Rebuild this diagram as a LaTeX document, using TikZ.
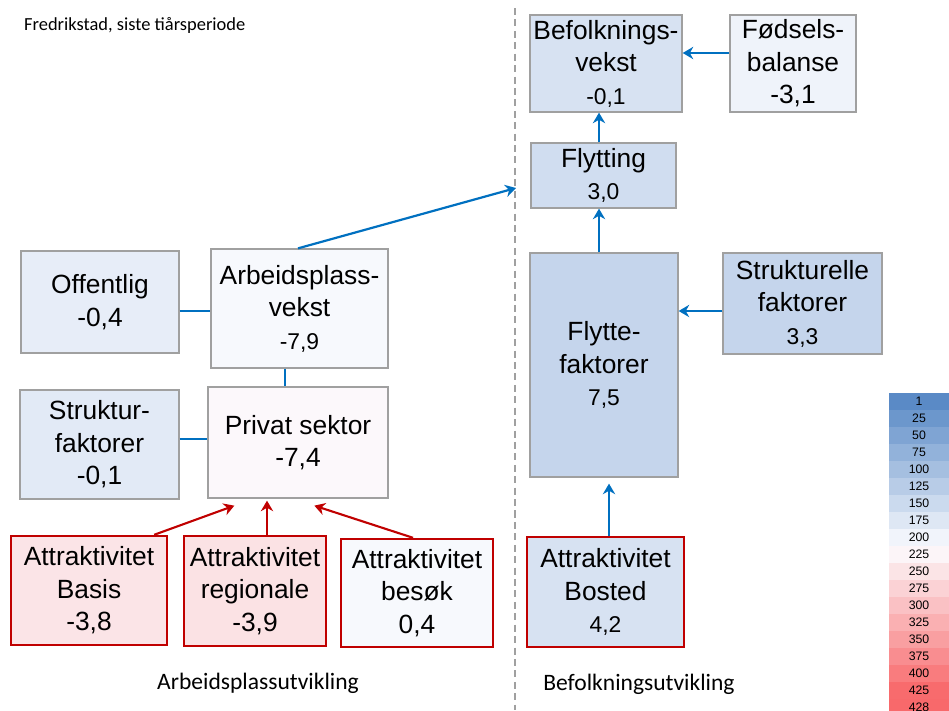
\documentclass[tikz,border=0pt]{standalone}
\usepackage{fontspec}
\setmainfont{Liberation Sans}
\newfontfamily\calibfont{Carlito}
\usetikzlibrary{arrows.meta}
\definecolor{xlblue}{RGB}{90,138,198}
\definecolor{xlwhite}{RGB}{252,252,255}
\definecolor{xlred}{RGB}{248,105,107}
\definecolor{linkblue}{RGB}{0,112,192}
\definecolor{attred}{RGB}{192,0,0}
\definecolor{boxgray}{RGB}{160,160,160}
\newcommand{\val}[1]{{\fontsize{13}{16}\selectfont #1}}
\tikzset{
  % plain factor box, grey border
  factor/.style={draw=boxgray, line width=0.75pt, align=center, inner sep=2pt,
    font=\fontsize{15}{18.5}\selectfont},
  % attractiveness box, red border
  attbox/.style={factor, draw=attred, line width=1.4pt},
  % blue connectors
  link/.style={draw=linkblue, line width=1.25pt},
  linkarrow/.style={link, -{Stealth[length=6pt,width=7pt]}},
  redarrow/.style={draw=attred, line width=1.2pt, -{Stealth[length=6pt,width=7pt]}},
  % colour scale cells
  legendcell/.style={minimum width=1.2cm, minimum height=0.34cm, inner sep=0pt,
    font=\fontsize{7}{8}\selectfont},
}
\begin{document}
\begin{tikzpicture}[x=0.02cm,y=-0.02cm]
\useasboundingbox (0,0) rectangle (949,710);
\node[anchor=base west, font=\calibfont\fontsize{10.5}{12}\selectfont] (title) at (18,31) {Fredrikstad, siste tiårsperiode};
% divider
\coordinate (divtop) at (515,8);
\coordinate (divbot) at (515,710);
\draw[boxgray, line width=1.2pt, dash pattern=on 4pt off 2.5pt] (divtop) -- (divbot);
% left side: jobs
\node[factor, fill=xlblue!13!xlwhite, minimum width=3.16cm, minimum height=2.04cm] (off) at (100,302) {Offentlig\\-0,4};
\node[factor, fill=xlblue!3!xlwhite, minimum width=3.54cm, minimum height=2.38cm] (arb) at (299.5,308.5) {Arbeidsplass-\\vekst\\\val{-7,9}};
\node[factor, fill=xlblue!16!xlwhite, minimum width=3.18cm, minimum height=2.18cm] (str) at (99.5,444.5) {Struktur-\\faktorer\\-0,1};
\node[factor, fill=xlred!3!xlwhite, minimum width=3.6cm, minimum height=2.22cm] (priv) at (298,442.5) {Privat sektor\\-7,4};
\node[attbox, fill=xlred!16!xlwhite, minimum width=3.12cm, minimum height=2.18cm] (basis) at (89,590.5) {Attraktivitet\\Basis\\-3,8};
\node[attbox, fill=xlred!18!xlwhite, minimum width=2.84cm, minimum height=2.2cm] (reg) at (255,591) {Attraktivitet\\regionale\\-3,9};
\node[attbox, fill=xlblue!3!xlwhite, minimum width=3.04cm, minimum height=2.16cm] (besok) at (417,593) {Attraktivitet\\besøk\\0,4};
\node[font=\calibfont\fontsize{13.4}{15}\selectfont] (arbutv) at (258,683) {Arbeidsplassutvikling};
\draw[link] ([yshift=-0.18cm]off.east) -- ([yshift=-0.18cm]off.east -| arb.west);
\draw[link] ([yshift=0.11cm]str.east) -- ([yshift=0.11cm]str.east -| priv.west);
\draw[link] ([xshift=-0.29cm]arb.south) -- ([xshift=-0.29cm]arb.south |- priv.north);
\draw[redarrow] ([xshift=-0.28cm]basis.north east) -- ([xshift=0.54cm,yshift=-0.14cm]priv.south west);
\draw[redarrow] ([xshift=0.24cm]reg.north) -- ([xshift=0.24cm,yshift=-0.04cm]reg.north |- priv.south);
\draw[redarrow] ([xshift=-0.08cm]besok.north) -- ([xshift=2.14cm,yshift=-0.14cm]priv.south west);
\coordinate (split) at (516,188);
\draw[linkarrow] ([xshift=-0.03cm]arb.north) -- (split);
% right side: population
\node[factor, fill=xlblue!23!xlwhite, minimum width=3cm, minimum height=1.94cm] (befv) at (606,63.5) {Befolknings-\\vekst\\\val{-0,1}};
\node[factor, fill=xlblue!8!xlwhite, minimum width=2.52cm, minimum height=1.94cm] (fods) at (793,63.5) {Fødsels-\\balanse\\-3,1};
\node[factor, fill=xlblue!27!xlwhite, minimum width=2.9cm, minimum height=1.3cm] (flyt) at (603.5,175.5) {Flytting\\\val{3,0}};
\node[factor, fill=xlblue!34!xlwhite, minimum width=2.96cm, minimum height=4.48cm] (flytf) at (604,365) {Flytte-\\faktorer\\\val{7,5}};
\node[factor, fill=xlblue!34!xlwhite, minimum width=3.18cm, minimum height=2.02cm] (struk) at (802.5,303.5) {Strukturelle\\faktorer\\\val{3,3}};
\node[attbox, fill=xlblue!23!xlwhite, minimum width=3.14cm, minimum height=2.2cm] (bosted) at (605.5,592) {Attraktivitet\\Bosted\\\val{4,2}};
\node[font=\calibfont\fontsize{13.4}{15}\selectfont] (befutv) at (639,684) {Befolkningsutvikling};
\draw[linkarrow] ([yshift=0.21cm]fods.west) -- ([yshift=0.21cm]fods.west -| befv.east);
\draw[linkarrow] ([xshift=-0.09cm]flyt.north) -- ([xshift=-0.09cm]flyt.north |- befv.south);
\draw[linkarrow] ([xshift=-0.1cm]flytf.north) -- ([xshift=-0.1cm]flytf.north |- flyt.south);
\draw[linkarrow] ([yshift=-0.15cm]struk.west) -- ([yshift=-0.15cm]struk.west -| flytf.east);
\draw[linkarrow] ([xshift=0.07cm]bosted.north) -- ([xshift=0.07cm,yshift=-0.12cm]bosted.north |- flytf.south);
% colour scale
\foreach \v [count=\i from 0] in {1,25,50,...,425,428} {
  \pgfmathsetmacro{\tb}{max(0,min(100,(214.5-\v)/213.5*100))}
  \pgfmathsetmacro{\tr}{max(0,min(100,(\v-214.5)/213.5*100))}
  \ifdim\tb pt>0pt \colorlet{cellcol}{xlblue!\tb!xlwhite}\else\colorlet{cellcol}{xlred!\tr!xlwhite}\fi
  \node[legendcell, fill=cellcol] (lg\i) at (919,{401.5+17*\i}) {\v};
}
\end{tikzpicture}
\end{document}
